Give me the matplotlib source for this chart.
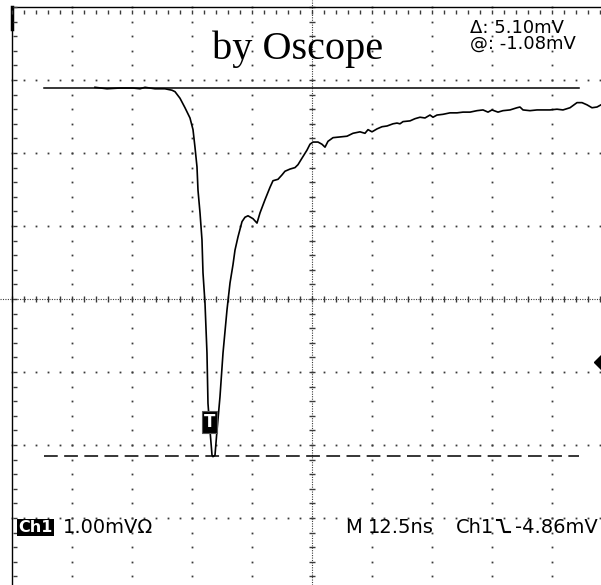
import numpy as np
import matplotlib.pyplot as plt
from matplotlib.lines import Line2D

# scope settings
ns_per_div = 12.5
mv_per_div = 1.0

# ch1 trace (time in ns from centre, volts in mV from centre)
time_ns = [-45.21, -42.71, -40.0, -37.29, -35.83, -34.79, -32.71, -30.63, -29.17, -28.54,
           -27.5, -26.46, -25.42, -24.79, -24.38, -23.96, -23.75, -23.33, -22.92, -22.71,
           -22.29, -21.88, -21.67, -21.25, -20.83, -20.63, -20.21, -19.79, -19.17, -18.54,
           -17.71, -17.08, -16.46, -16.04, -15.42, -14.58, -13.96, -13.33, -12.29, -11.46,
           -10.83, -9.79, -8.75, -8.13, -7.08, -6.25, -5.63, -4.58, -3.54, -2.92,
           -2.08, -1.04, -0.42, 0.21, 1.25, 2.08, 2.71, 3.33, 4.38, 5.83,
           7.29, 8.54, 10.0, 11.04, 11.67, 12.5, 13.54, 14.58, 15.63, 16.88,
           17.71, 18.33, 18.96, 20.42, 21.46, 22.5, 23.54, 24.58, 25.21, 26.04,
           27.29, 28.75, 30.21, 31.46, 32.92, 34.38, 35.63, 36.67, 37.5, 38.75,
           39.79, 41.25, 42.71, 43.33, 43.96, 45.42, 46.88, 48.13, 49.58, 51.04,
           52.29, 53.75, 55.21, 56.25, 57.29, 58.33, 59.38, 60.21]
volt_mv = [2.90, 2.88, 2.89, 2.89, 2.88, 2.90, 2.88, 2.88, 2.86, 2.84,
           2.75, 2.62, 2.48, 2.32, 2.08, 1.81, 1.49, 1.18, 0.81, 0.36,
           -0.06, -0.74, -1.43, -1.80, -2.14, -2.16, -2.14, -1.80, -1.34, -0.74,
           -0.15, 0.22, 0.47, 0.67, 0.85, 1.06, 1.12, 1.14, 1.10, 1.04,
           1.18, 1.36, 1.53, 1.62, 1.64, 1.70, 1.75, 1.78, 1.80, 1.84,
           1.93, 2.04, 2.12, 2.15, 2.15, 2.12, 2.08, 2.16, 2.21, 2.22,
           2.23, 2.27, 2.29, 2.27, 2.32, 2.29, 2.33, 2.36, 2.37, 2.40,
           2.41, 2.40, 2.43, 2.44, 2.47, 2.49, 2.48, 2.52, 2.49, 2.52,
           2.53, 2.55, 2.55, 2.56, 2.56, 2.58, 2.59, 2.56, 2.59, 2.56,
           2.58, 2.59, 2.62, 2.63, 2.59, 2.58, 2.59, 2.59, 2.59, 2.60,
           2.59, 2.62, 2.69, 2.69, 2.66, 2.62, 2.63, 2.66]

# cursors, trigger
cursor_hi_mv = 2.89
cursor_lo_mv = -2.15
cursor_t = [-55.8, 55.6]
trig_t, trig_mv = -21.35, -1.68
trig_level_mv = -0.86

fig = plt.figure(figsize=(6.01, 5.85), dpi=100)
ax = fig.add_axes([0, 0, 1, 1])
ax.set_xlim(-65.0, 60.21)
ax.set_ylim(-3.918, 4.096)
ax.axis('off')

dot_col = '#3a3a3a'
sub_y = np.arange(-4, 4.01, 0.2) * mv_per_div
sub_x = np.arange(-5, 5.01, 0.2) * ns_per_div

# graticule dots
for k in range(-4, 5):
    if k == 0:
        continue
    ax.plot(np.full_like(sub_y, k * ns_per_div), sub_y, ls='none', marker='s',
            ms=1.3, mew=0, color=dot_col)
for j in range(-3, 4):
    if j == 0:
        continue
    ax.plot(sub_x, np.full_like(sub_x, j * mv_per_div), ls='none', marker='s',
            ms=1.3, mew=0, color=dot_col)

# centre cross with minor ticks
ax.axvline(0, ls=(0, (1, 1.2)), lw=0.8, color=dot_col)
ax.axhline(0, ls=(0, (1, 1.2)), lw=0.8, color=dot_col)
ax.plot(np.zeros_like(sub_y), sub_y, ls='none', marker='_', ms=5, mew=1.0, color=dot_col)
ax.plot(sub_x, np.zeros_like(sub_x), ls='none', marker='|', ms=5, mew=1.0, color=dot_col)

# screen border (left and top edges are visible)
left = -5 * ns_per_div
top = 4 * mv_per_div
ax.plot([left, left], [top, -4 * mv_per_div], color='black', lw=1.0)
ax.plot([left, left], [top, 3.7], color='black', lw=2.5)
ax.plot([left, 5 * ns_per_div], [top, top], color='black', lw=1.0)
ax.plot(np.full_like(sub_y, left + 0.6), sub_y, ls='none', marker='_', ms=3, mew=1.0, color=dot_col)
ax.plot(sub_x, np.full_like(sub_x, top - 0.07), ls='none', marker='|', ms=3, mew=1.0, color=dot_col)

# cursors
ax.plot(cursor_t, [cursor_hi_mv] * 2, color='black', lw=1.1)
ax.plot(cursor_t, [cursor_lo_mv] * 2, color='black', lw=1.1, ls=(0, (9, 4.2)))

# trace
ax.plot(time_ns, volt_mv, color='black', lw=1.2, zorder=5)

# trigger position marker
ax.text(trig_t, trig_mv, 'T', color='white', fontsize=12, fontweight='bold',
        ha='center', va='center', family='DejaVu Sans', zorder=6,
        bbox=dict(boxstyle='square,pad=0.12', fc='black', ec='#555555', lw=0.8))
# trigger level marker at right edge
ax.plot([60.42], [trig_level_mv], marker='D', ms=8, color='black', clip_on=False)

W, H = 601.0, 585.0
def fx(px):
    return px / W
def fy(py):
    return 1 - py / H

sans = 'DejaVu Sans'
fig.text(fx(297.5), fy(59), 'by Oscope', family='Liberation Serif', fontsize=29,
         ha='center', va='baseline')
fig.text(fx(470), fy(19), '\u0394: 5.10mV\n@: -1.08mV', family=sans, fontsize=13,
         va='top', linespacing=0.85)

fig.text(fx(18), fy(532), 'Ch1', family=sans, fontsize=11.5, fontweight='bold', color='white',
         va='baseline', bbox=dict(boxstyle='square,pad=0.08', fc='black', ec='none'))
fig.text(fx(63), fy(533), '1.00mV\u03a9', family=sans, fontsize=14, va='baseline')
fig.text(fx(345), fy(533), 'M', family=sans, fontsize=14, va='baseline')
fig.text(fx(368), fy(533), '12.5ns', family=sans, fontsize=14, va='baseline')
fig.text(fx(456), fy(533), 'Ch1', family=sans, fontsize=14, va='baseline')
fig.add_artist(Line2D([fx(497), fx(501), fx(504), fx(510)],
                      [fy(520), fy(520), fy(532), fy(532)],
                      transform=fig.transFigure, color='black', lw=1.5))
fig.text(fx(515), fy(533), '-4.86mV', family=sans, fontsize=14, va='baseline')

fig.savefig('out.png', dpi=100)
